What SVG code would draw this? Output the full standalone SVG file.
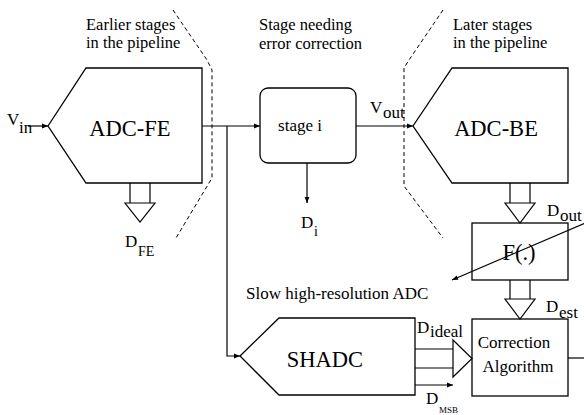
<svg xmlns="http://www.w3.org/2000/svg" width="584" height="415" viewBox="0 0 584 415" font-family="Liberation Serif, Times New Roman, DejaVu Serif, serif">
<style>
.t{font-size:17px}
.h{font-size:16.5px}
.big{font-size:22.5px}
.s{font-size:14px}
.shape{fill:#fff;stroke:#000;stroke-width:1.3}
.hol{fill:#fff;stroke:#000;stroke-width:1.2}
.line{fill:none;stroke:#000;stroke-width:1.2}
.dash{fill:none;stroke:#000;stroke-width:1;stroke-dasharray:4 3}
</style>
<defs>
<marker id="ah" viewBox="0 0 10 10" refX="10" refY="5" markerWidth="8" markerHeight="6" markerUnits="userSpaceOnUse" orient="auto">
<path d="M0,1 L10,5 L0,9 Z" fill="#000"/>
</marker>
</defs>
<rect width="584" height="415" fill="#fff"/>

<g id="labels">
<text class="h" x="86" y="30">Earlier stages</text>
<text class="h" x="86" y="48">in the pipeline</text>
<text class="h" x="259" y="30">Stage needing</text>
<text class="h" x="259" y="49">error correction</text>
<text class="h" x="453" y="30">Later stages</text>
<text class="h" x="453" y="48">in the pipeline</text>
<text class="t" x="246" y="299">Slow high-resolution ADC</text>
</g>

<g id="boundaries">
<polyline class="dash" points="173,10 207,60 212,70 212,178 176,238"/>
<polyline class="dash" points="443,10 409,60 404,68 404,186 443,238"/>
</g>

<g id="adc-fe">
<polygon class="shape" points="48,126 86,68 202,68 202,183 86,183"/>
<text class="big" x="130" y="136" text-anchor="middle">ADC-FE</text>
</g>

<g id="stage-i">
<rect class="shape" x="260" y="88" width="96" height="75" rx="8"/>
<text class="t" x="300" y="131" text-anchor="middle">stage i</text>
</g>

<g id="adc-be">
<polygon class="shape" points="413,126 452,68 568,68 568,183 452,183"/>
<text class="big" x="496" y="136" text-anchor="middle">ADC-BE</text>
</g>

<g id="f-block">
<rect class="shape" x="472" y="223" width="96" height="57"/>
<text class="big" x="519" y="260" text-anchor="middle">F(.)</text>
</g>

<g id="shadc">
<polygon class="shape" points="240,356 279,318 415,318 415,395 279,395"/>
<text class="big" x="325" y="367" text-anchor="middle">SHADC</text>
</g>

<g id="correction">
<rect class="shape" x="472" y="319" width="96" height="77"/>
<text class="t" x="514" y="348" text-anchor="middle">Correction</text>
<text class="t" x="518" y="372" text-anchor="middle">Algorithm</text>
</g>

<g id="connectors">
<line class="line" x1="28" y1="126" x2="48" y2="126" marker-end="url(#ah)"/>
<line class="line" x1="202" y1="126" x2="260" y2="126" marker-end="url(#ah)"/>
<polyline class="line" points="227,126 227,356 240,356" marker-end="url(#ah)"/>
<line class="line" x1="356" y1="126" x2="413" y2="126" marker-end="url(#ah)"/>
<line class="line" x1="307" y1="163" x2="307" y2="203" marker-end="url(#ah)"/>
<line class="line" x1="584" y1="223.5" x2="452" y2="280" marker-end="url(#ah)"/>
<line class="line" x1="568" y1="358" x2="584" y2="358"/>
<line class="line" x1="415" y1="385" x2="453" y2="385" marker-end="url(#ah)"/>
<path class="hol" d="M130,183 V203 M150,183 V203"/>
<polygon class="hol" points="125,203 155,203 140,222"/>
<path class="hol" d="M510,183 V203 M530,183 V203"/>
<polygon class="hol" points="505,203 535,203 520,223"/>
<path class="hol" d="M510,280 V299 M530,280 V299"/>
<polygon class="hol" points="505,299 535,299 520,319"/>
<path class="hol" d="M415,349 H453 M415,368 H453"/>
<polygon class="hol" points="453,340 453,377 472,358.5"/>
</g>

<g id="signal-labels">
<text class="t" x="7" y="125">V</text><text class="t" x="19" y="133">in</text>
<text class="t" x="370" y="113">V</text><text class="t" x="383" y="118">out</text>
<text class="t" x="301" y="228">D</text><text class="s" x="314" y="236">i</text>
<text class="t" x="125" y="247">D</text><text class="s" x="138" y="256">FE</text>
<text class="t" x="547" y="216">D</text><text class="t" x="560" y="221">out</text>
<text class="t" x="546" y="312">D</text><text class="t" x="559" y="318">est</text>
<text class="t" x="417" y="333">D</text><text class="t" x="430" y="337">ideal</text>
<text class="t" x="426" y="404">D</text><text style="font-size:9px" x="439" y="413">MSB</text>
</g>
</svg>
